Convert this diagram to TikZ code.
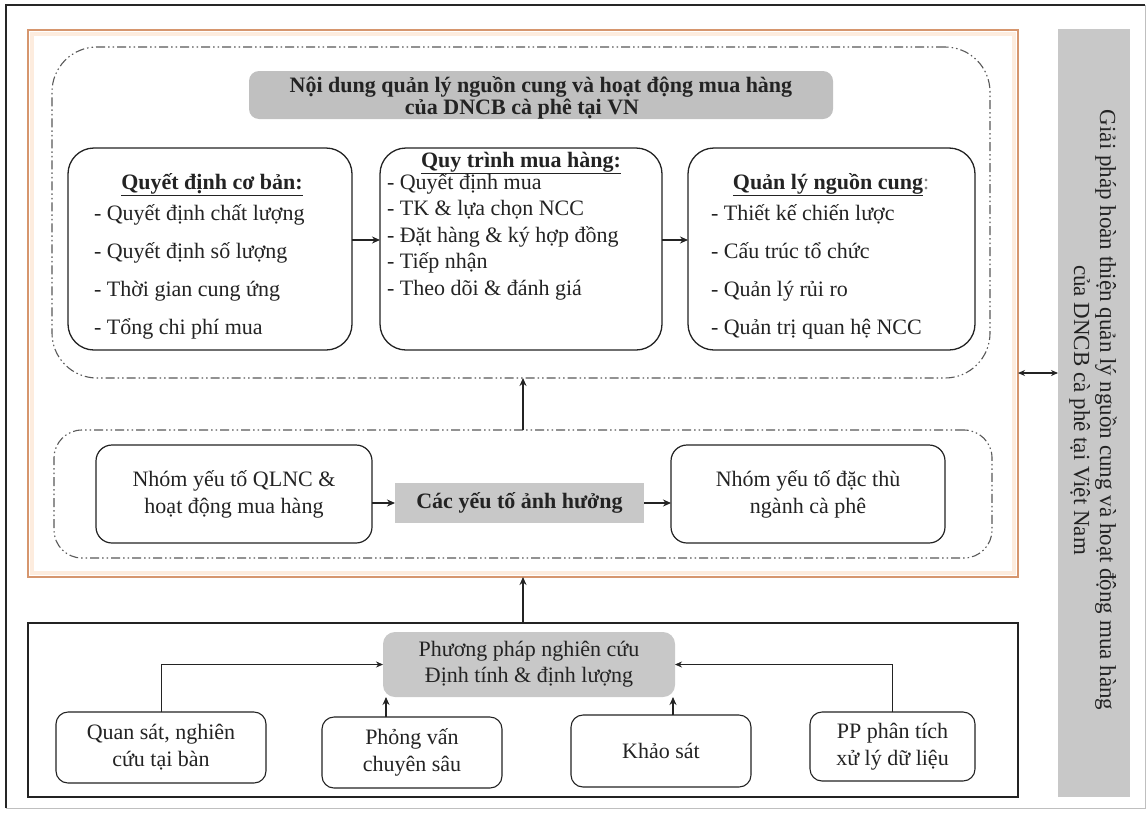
\documentclass[tikz,border=0pt]{standalone}
\usepackage{fontspec}
\setmainfont{Liberation Serif}
\usetikzlibrary{arrows.meta}
\definecolor{ink}{RGB}{35,35,35}
\definecolor{peach}{RGB}{214,150,110}
\definecolor{peachglow}{RGB}{253,236,222}
\definecolor{panelgray}{RGB}{192,192,192}
\definecolor{bargray}{RGB}{200,200,200}

\begin{document}
\begin{tikzpicture}[x=1pt, y=-1pt,
  every node/.style={inner sep=0pt, outer sep=0pt, text=ink},
  txt/.style={font=\fontsize{22}{26}\selectfont},
  bold/.style={font=\fontsize{22}{26}\selectfont\bfseries},
  panel/.style={draw=ink, line width=1.3pt, rounded corners=26pt},
  factor/.style={draw=ink, line width=1.2pt, rounded corners=16pt, align=center, font=\fontsize{22}{27}\selectfont},
  method/.style={draw=ink, line width=1.1pt, rounded corners=12pt, align=center, font=\fontsize{22}{27}\selectfont},
  dashframe/.style={draw=black!65, line width=1.1pt, dash pattern=on 9pt off 3pt on 1.5pt off 3pt on 1.5pt off 3pt},
  arr/.style={draw=ink, line width=1.4pt, -{Stealth[length=8pt,width=7pt]}},
  link/.style={draw=ink, line width=0.7pt, -{Stealth[length=7pt,width=6pt]}},
  biarr/.style={draw=ink, line width=1.2pt, {Stealth[length=7pt,width=6pt]}-{Stealth[length=7pt,width=6pt]}},
]
\useasboundingbox (0,0) rectangle (1147,814);
\fill[white] (0,0) rectangle (1147,814);

% page border
\draw[black!85, line width=1.3pt] (6,808) -- (6,5) -- (1145,5);
\draw[black!25, line width=0.8pt] (6,808) -- (1145,808) -- (1145,5);

% analysis frame (orange)
\draw[peachglow, line width=4pt] (32,34) rectangle (1014,573);
\node[draw=peach, line width=1.4pt, minimum width=990pt, minimum height=547pt] (analysis) at (523,303.5) {};

% content frame with title
\node[dashframe, rounded corners=45pt, minimum width=938pt, minimum height=331pt] (content) at (521,212.5) {};
\node[fill=panelgray, rounded corners=10pt, minimum width=584pt, minimum height=48pt] (title) at (541,95) {};
\node[bold, anchor=base] (title1) at (541,92) {Nội dung quản lý nguồn cung và hoạt động mua hàng};
\node[bold, anchor=base] (title2) at (522,114) {của DNCB cà phê tại VN};

% three panels
\node[panel, minimum width=284pt, minimum height=202pt] (dec) at (210,249) {};
\node[panel, minimum width=282pt, minimum height=202pt] (proc) at (521,249) {};
\node[panel, minimum width=287pt, minimum height=202pt] (sup) at (831.5,249) {};

\node[bold, anchor=base] (dechead) at (212,189) {\underline{Quyết định cơ bản:}};
\foreach \t [count=\i] in {Quyết định chất lượng, Quyết định số lượng, Thời gian cung ứng, Tổng chi phí mua}
  \node[txt, anchor=base west] (dec\i) at (94, {220+(\i-1)*38.3}) {- \t};

\node[bold, anchor=base] (prochead) at (521,167) {\underline{Quy trình mua hàng:}};
\foreach \t [count=\i] in {Quyết định mua, TK \& lựa chọn NCC, Đặt hàng \& ký hợp đồng, Tiếp nhận, Theo dõi \& đánh giá}
  \node[txt, anchor=base west] (proc\i) at (387, {189+(\i-1)*26.5}) {- \t};

\node[bold, anchor=base] (suphead) at (831,189) {\underline{Quản lý nguồn cung}\textcolor{gray}{\mdseries:}};
\foreach \t [count=\i] in {Thiết kế chiến lược, Cấu trúc tổ chức, Quản lý rủi ro, Quản trị quan hệ NCC}
  \node[txt, anchor=base west] (sup\i) at (711, {220+(\i-1)*38.3}) {- \t};

\draw[arr] ([yshift=9pt]dec.east) -- ([yshift=9pt]proc.west);
\draw[arr] ([yshift=9pt]proc.east) -- ([yshift=9pt]sup.west);

% influencing factors
\node[dashframe, rounded corners=28pt, minimum width=938pt, minimum height=128pt] (factors) at (523,494) {};
\node[factor, minimum width=276pt, minimum height=98pt] (grp1) at (234,494) {Nhóm yếu tố QLNC \&\\hoạt động mua hàng};
\node[fill=bargray, minimum width=249pt, minimum height=40pt, bold] (infl) at (519.5,503) {Các yếu tố ảnh hưởng};
\node[factor, minimum width=274pt, minimum height=98pt] (grp2) at (808,494) {Nhóm yếu tố đặc thù\\ngành cà phê};
\draw[arr] (grp1.east |- infl.west) -- (infl.west);
\draw[arr] (infl.east) -- (grp2.west |- infl.east);
\draw[arr] (factors.north) -- (factors.north |- content.south);

% research methods
\node[draw=ink, line width=1.1pt, minimum width=990pt, minimum height=174pt] (methods) at (523,710) {};
\draw[arr] (methods.north) -- (methods.north |- analysis.south);
\node[fill=bargray, rounded corners=12pt, minimum width=292pt, minimum height=65pt, align=center, font=\fontsize{22}{26}\selectfont] (pp) at (529,664.5) {Phương pháp nghiên cứu\\Định tính \& định lượng};
\node[method, minimum width=210pt, minimum height=71pt] (m1) at (161,747.5) {Quan sát, nghiên\\cứu tại bàn};
\node[method, minimum width=180pt, minimum height=71pt] (m2) at (412,752.5) {Phỏng vấn\\chuyên sâu};
\node[method, minimum width=180pt, minimum height=72pt] (m3) at (661,751) {Khảo sát};
\node[method, minimum width=165pt, minimum height=69pt] (m4) at (892.5,746.5) {PP phân tích\\xử lý dữ liệu};
\draw[link] (m1.north) |- (pp.west);
\draw[link] (m4.north) |- (pp.east);
\draw[arr, line width=1.1pt] ([xshift=3pt]pp.south west |- m2.north) -- ([xshift=3pt]pp.south west);
\draw[arr, line width=1.1pt] ([xshift=-2pt]pp.south east |- m3.north) -- ([xshift=-2pt]pp.south east);

% solutions bar
\node[fill=bargray, minimum width=72pt, minimum height=768pt] (solution) at (1094,413) {};
\node[rotate=-90, align=center, font=\fontsize{23}{26}\selectfont] (soltext) at (1093,410) {Giải pháp hoàn thiện quản lý nguồn cung và hoạt động mua hàng\\của DNCB cà phê tại Việt Nam};
\coordinate (tie) at (1037,373);
\draw[biarr] (analysis.east |- tie) -- (solution.west |- tie);
\end{tikzpicture}
\end{document}
